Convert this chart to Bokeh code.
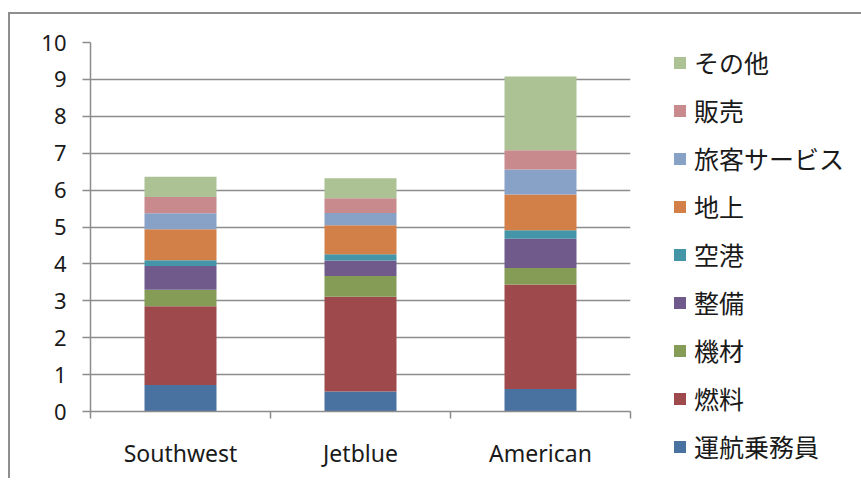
from bokeh.plotting import figure
from bokeh.models import Range1d, FixedTicker, Legend, LegendItem, ColumnDataSource
from bokeh.embed import file_html
from bokeh.resources import INLINE

airlines = ["Southwest", "Jetblue", "American"]
series = ["運航乗務員", "燃料", "機材", "整備", "空港", "地上", "旅客サービス", "販売", "その他"]
crew = [0.72, 0.54, 0.61]
fuel = [2.13, 2.57, 2.83]
equipment = [0.45, 0.56, 0.45]
maintenance = [0.64, 0.42, 0.79]
airport = [0.16, 0.17, 0.23]
ground = [0.84, 0.79, 0.97]
passenger = [0.43, 0.33, 0.68]
sales = [0.44, 0.40, 0.52]
other = [0.55, 0.54, 2.00]
colors = ["#4a72a0", "#9e4a4c", "#849c55", "#6f5a8b", "#4595a8",
          "#d28048", "#88a1c6", "#c88a8c", "#acc295"]
y_ticks = list(range(0, 11))

values = [crew, fuel, equipment, maintenance, airport, ground, passenger, sales, other]
keys = ["s%d" % i for i in range(len(series))]
data = {"x": [0.5, 1.5, 2.5]}
for k, v in zip(keys, values):
    data[k] = v
src = ColumnDataSource(data)

p = figure(frame_width=540, frame_height=369, output_backend="svg", toolbar_location=None,
           x_range=Range1d(0, 3), y_range=Range1d(0, 10),
           min_border_left=80, min_border_right=221, min_border_top=28, min_border_bottom=67,
           background_fill_color="white", border_fill_color="white", outline_line_color=None)
p.margin = (12, 0, 0, 8)
p.styles = {"border-left": "2px solid #8e8e8e", "border-top": "2px solid #8e8e8e"}

renderers = p.vbar_stack(keys, x="x", width=0.4, source=src, color=colors, line_color=None)

font = "Noto Sans"
grid_col = "#8c8c8c"

# y axis
p.yaxis.ticker = FixedTicker(ticks=y_ticks)
p.yaxis.axis_line_color = grid_col
p.yaxis.axis_line_width = 1.5
p.yaxis.major_tick_line_color = grid_col
p.yaxis.major_tick_line_width = 1.5
p.yaxis.major_tick_out = 8
p.yaxis.major_tick_in = 0
p.yaxis.minor_tick_line_color = None
p.yaxis.major_label_text_font = font
p.yaxis.major_label_text_font_size = "22px"
p.yaxis.major_label_text_color = "#1a1a1a"
p.yaxis.major_label_standoff = 16

# x axis
p.xaxis.ticker = FixedTicker(ticks=[0.5, 1.5, 2.5], minor_ticks=[0, 1, 2, 3])
p.xaxis.major_label_overrides = {0.5: airlines[0], 1.5: airlines[1], 2.5: airlines[2]}
p.xaxis.axis_line_color = grid_col
p.xaxis.axis_line_width = 1.5
p.xaxis.major_tick_line_color = None
p.xaxis.major_tick_out = 0
p.xaxis.major_tick_in = 0
p.xaxis.minor_tick_line_color = grid_col
p.xaxis.minor_tick_line_width = 1.5
p.xaxis.minor_tick_out = 7
p.xaxis.minor_tick_in = 0
p.xaxis.major_label_text_font = font
p.xaxis.major_label_text_font_size = "23px"
p.xaxis.major_label_text_color = "#1a1a1a"
p.xaxis.major_label_standoff = 18

p.xgrid.grid_line_color = None
p.ygrid.grid_line_color = grid_col
p.ygrid.grid_line_width = 1.5

items = [LegendItem(label=series[i], renderers=[renderers[i]]) for i in reversed(range(len(series)))]
legend = Legend(items=items, location=(42, -53), orientation="vertical",
                label_text_font="Noto Sans CJK JP", label_text_font_size="25px",
                label_text_color="#1a1a1a", glyph_width=15, glyph_height=15,
                label_height=24, spacing=12, label_standoff=7, padding=0, margin=0,
                border_line_color=None, background_fill_alpha=0)
p.add_layout(legend, "right")

open("out.html", "w").write(file_html(p, INLINE))
